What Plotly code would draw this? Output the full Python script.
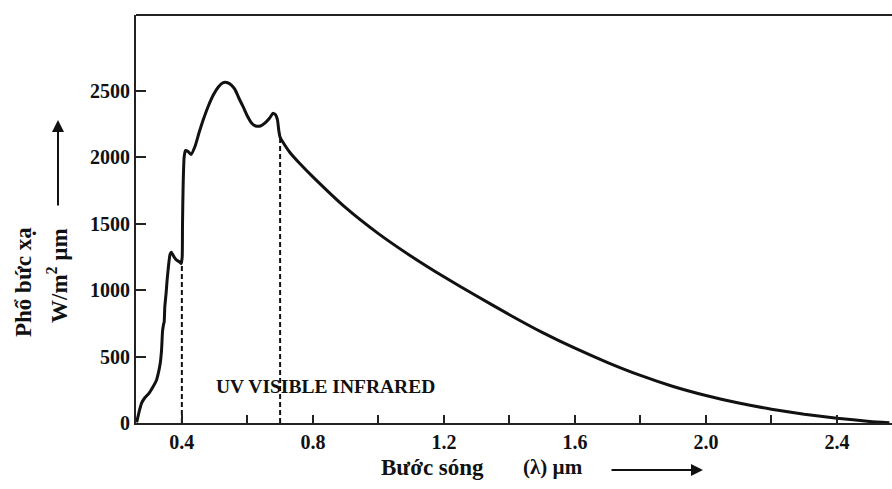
import plotly.graph_objects as go

# ---- data ----
wavelength_um = [0.262, 0.270, 0.277, 0.287, 0.300, 0.312, 0.322, 0.328, 0.334, 0.338,
                 0.341, 0.344, 0.346, 0.348, 0.352, 0.355, 0.360, 0.364, 0.368, 0.376,
                 0.384, 0.394, 0.398, 0.401, 0.402, 0.404, 0.407, 0.411, 0.418, 0.428,
                 0.440, 0.452, 0.465, 0.480, 0.496, 0.512, 0.525, 0.540, 0.552, 0.562,
                 0.575, 0.587, 0.600, 0.612, 0.625, 0.640, 0.655, 0.668, 0.678, 0.686,
                 0.692, 0.696, 0.700, 0.715, 0.730, 0.760, 0.800, 0.900, 1.000, 1.100,
                 1.200, 1.300, 1.400, 1.500, 1.600, 1.700, 1.800, 1.900, 2.000, 2.100,
                 2.200, 2.300, 2.400, 2.500, 2.560]
irradiance = [5, 90, 150, 190, 225, 273, 320, 374, 450, 549,
              690, 740, 760, 875, 980, 1076, 1200, 1270, 1285, 1250,
              1225, 1210, 1200, 1250, 1500, 1800, 2000, 2050, 2045, 2020,
              2080, 2180, 2280, 2380, 2468, 2530, 2560, 2560, 2540, 2510,
              2440, 2380, 2310, 2260, 2235, 2235, 2260, 2295, 2330, 2320,
              2280, 2200, 2150, 2088, 2035, 1952, 1852, 1620, 1425, 1255,
              1100, 956, 815, 682, 563, 455, 358, 275, 207, 150,
              104, 66, 36, 12, 2]

boundary_wl = [0.4, 0.7]
boundary_top = [1210, 2150]

x_tickvals = [0.4, 0.6, 0.8, 1.0, 1.2, 1.4, 1.6, 1.8, 2.0, 2.2, 2.4]
x_ticktext = ["0.4", "", "0.8", "", "1.2", "", "1.6", "", "2.0", "", "2.4"]
y_tickvals = [0, 500, 1000, 1500, 2000, 2500]
y_ticktext = ["0", "500", "1000", "1500", "2000", "2500"]

FONT = "Liberation Serif, Times New Roman, serif"
INK = "#111111"

fig = go.Figure()

for wl, top in zip(boundary_wl, boundary_top):
    fig.add_trace(go.Scatter(x=[wl, wl], y=[0, top], mode="lines",
                             line=dict(color=INK, width=2, dash="5px,3px"),
                             hoverinfo="skip", showlegend=False))

fig.add_trace(go.Scatter(x=wavelength_um, y=irradiance, mode="lines",
                         line=dict(color=INK, width=3, shape="spline", smoothing=0.5),
                         showlegend=False))

axis_common = dict(showgrid=False, zeroline=False, showline=True, linecolor="#222222",
                   linewidth=2, ticks="inside", tickcolor="#222222", tickwidth=2,
                   tickfont=dict(family=FONT, size=20, color=INK, weight="bold"))

fig.update_xaxes(range=[0.26, 2.568], tickmode="array", tickvals=x_tickvals,
                 ticktext=[f"<b>{t}</b>" if t else "" for t in x_ticktext], ticklen=8,
                 **axis_common)
fig.update_yaxes(range=[0, 3070], tickmode="array", tickvals=y_tickvals,
                 ticktext=[f"<b>{t}</b>" for t in y_ticktext], ticklen=10,
                 **axis_common)

# top frame line
fig.add_shape(type="line", xref="paper", yref="paper", x0=0, x1=1, y0=1, y1=1,
              line=dict(color="#222222", width=2))

annotations = [
    dict(text="<b>UV VISIBLE INFRARED</b>", x=0.84, y=271, xref="x", yref="y",
         xanchor="center", yanchor="middle", showarrow=False,
         font=dict(family=FONT, size=19.5, color=INK)),
    dict(text="<b>Phổ bức xạ</b>", x=(23 - 136) / 756, y=(423 - 282) / 408,
         xref="paper", yref="paper", textangle=-90, showarrow=False,
         xanchor="center", yanchor="middle",
         font=dict(family=FONT, size=23, color=INK)),
    dict(text="<b>W/m<sup>2</sup> µm</b>", x=(57 - 136) / 756, y=(423 - 276) / 408,
         xref="paper", yref="paper", textangle=-90, showarrow=False,
         xanchor="center", yanchor="middle",
         font=dict(family=FONT, size=23, color=INK)),
    dict(text="<b>Bước sóng</b>", x=(432 - 136) / 756, y=(423 - 467) / 408,
         xref="paper", yref="paper", showarrow=False,
         xanchor="center", yanchor="middle",
         font=dict(family=FONT, size=23, color=INK)),
    dict(text="<b>(λ) µm</b>", x=(553 - 136) / 756, y=(423 - 467) / 408,
         xref="paper", yref="paper", showarrow=False,
         xanchor="center", yanchor="middle",
         font=dict(family=FONT, size=21, color=INK)),
    # arrows
    dict(text="", x=(58 - 136) / 756, y=(423 - 120) / 408, xref="paper", yref="paper",
         showarrow=True, ax=0, ay=87, arrowhead=2, arrowsize=1.2, arrowwidth=2,
         arrowcolor=INK),
    dict(text="", x=(703 - 136) / 756, y=(423 - 470) / 408, xref="paper", yref="paper",
         showarrow=True, ax=-93, ay=0, arrowhead=2, arrowsize=1.2, arrowwidth=2,
         arrowcolor=INK),
]

fig.update_layout(width=892, height=489, autosize=False,
                  margin=dict(l=136, r=0, t=15, b=66),
                  paper_bgcolor="white", plot_bgcolor="white",
                  annotations=annotations, showlegend=False)

fig.write_html("out.html", config={"displayModeBar": False})
